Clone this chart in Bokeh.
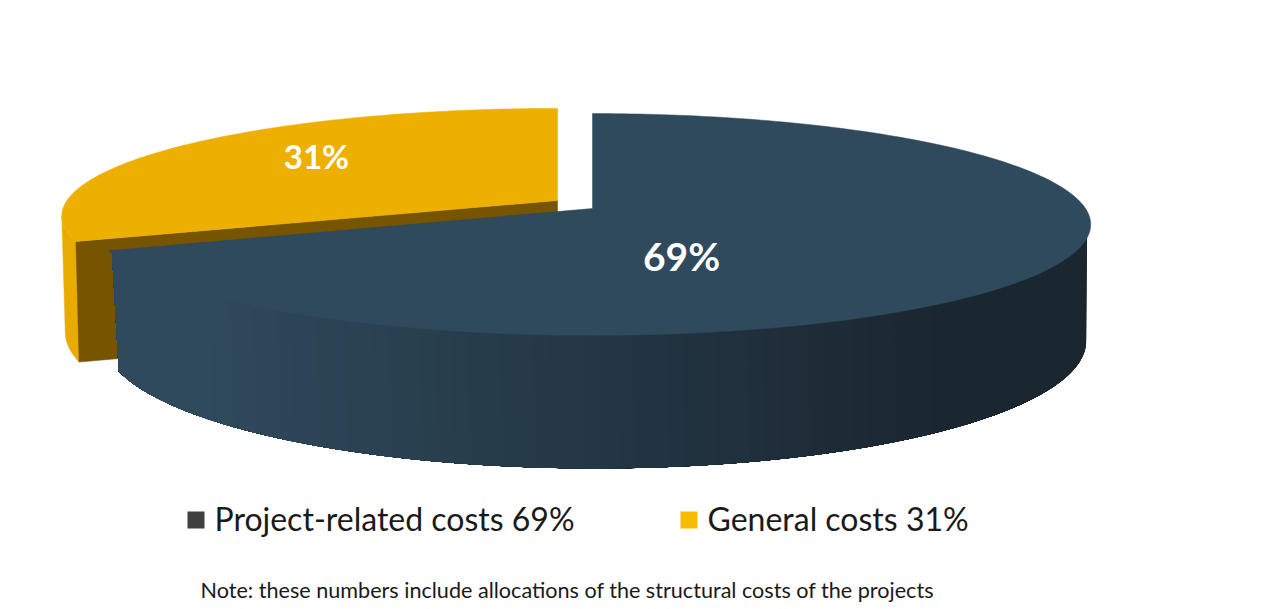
import numpy as np
from bokeh.plotting import figure
from bokeh.models import Range1d
from bokeh.core.properties import value
from bokeh.embed import file_html
from bokeh.resources import INLINE

categories = ["Project-related costs", "General costs"]
shares = [69, 31]
share_labels = ["69%", "31%"]
legend_labels = ["Project-related costs 69%", "General costs 31%"]
note = "Note: these numbers include allocations of the structural costs of the projects"

FONT = value("Lato")
RX, RY, K = 493.0, 108.6, 0.144
split = shares[1] / sum(shares) * 2 * np.pi
T_EXT = np.arccos(-K)  # angle of the widest point of the rim


def rim(t, cx, cy, sx=1.0, sy=1.0):
    p, q = np.sin(t), np.cos(t)
    w = 1 + K * q
    return cx + sx * RX * p / w, cy - sy * RY * q / w


def hexmix(a, b, f):
    a = np.array([int(a[i:i + 2], 16) for i in (1, 3, 5)], float)
    b = np.array([int(b[i:i + 2], 16) for i in (1, 3, 5)], float)
    c = a + (b - a) * f
    return "#%02x%02x%02x" % tuple(int(round(v)) for v in c)


p = figure(width=1288, height=609, output_backend="svg", toolbar_location=None,
           x_range=Range1d(0, 1288), y_range=Range1d(609, 0),
           min_border=0, outline_line_color=None, background_fill_color="white",
           border_fill_color="white")
p.axis.visible = False
p.grid.visible = False

# gold slice: outer wall, cut wall, top
GOLD_TOP = (557, 200, 0.995, 0.97)
GOLD_BOT = (551, 313, 0.976, 1.15)
t_g = np.linspace(-split, -T_EXT, 30)
xt, yt = rim(t_g, *GOLD_TOP)
xb, yb = rim(t_g, *GOLD_BOT)
p.patch(np.r_[xt, xb[::-1]], np.r_[yt, yb[::-1]], fill_color="#e8ac00", line_color="#e8ac00", line_width=0.5)

xe, ye = rim(np.array([-split]), *GOLD_TOP)
xf, yf = rim(np.array([-split]), *GOLD_BOT)
p.patch([GOLD_TOP[0], xe[0], xf[0], GOLD_TOP[0]], [GOLD_TOP[1], ye[0], yf[0], GOLD_TOP[1] + 120],
        fill_color="#775500", line_color="#775500", line_width=0.5)

t_top = np.linspace(-split, 0, 120)
xg, yg = rim(t_top, *GOLD_TOP)
p.patch(np.r_[GOLD_TOP[0], xg], np.r_[GOLD_TOP[1], yg], fill_color="#eeb000", line_color="#eeb000", line_width=0.5)

# dark slice: wall drawn as overlapping bands for shading, then top
DARK_TOP = (592, 208, 0.993, 1.0)
DARK_BOT = (595, 322, 0.985, 1.15)
dark_end = 2 * np.pi - split
edges = np.linspace(T_EXT, dark_end, 90)
for a in edges[:-1]:
    tt = np.linspace(a, dark_end, 120)
    xa, ya = rim(tt, *DARK_TOP)
    xc, yc = rim(tt, *DARK_BOT)
    f = np.clip((xa[0] - 200) / 750, 0, 1)
    col = hexmix("#2f4a5c", "#1a2630", f)
    p.patch(np.r_[xa, xc[::-1]], np.r_[ya, yc[::-1]], fill_color=col, line_color=None)

t_d = np.linspace(0, dark_end, 240)
xd, yd = rim(t_d, 592, 208)
p.patch(np.r_[DARK_TOP[0], xd], np.r_[DARK_TOP[1], yd], fill_color="#2f4a5c", line_color="#2f4a5c", line_width=0.5)

# value labels
p.text([681], [255], text=[share_labels[0]], text_font=FONT, text_font_size="39px", text_font_style="bold",
       text_color="white", text_align="center", text_baseline="middle")
p.text([316], [155], text=[share_labels[1]], text_font=FONT, text_font_size="33px", text_font_style="bold",
       text_color="white", text_align="center", text_baseline="middle")

# legend
p.rect([195.5, 688.5], [519.5, 519.5], width=17, height=17,
       fill_color=["#404040", "#f7bb00"], line_color=None)
p.text([214, 707], [518, 518], text=legend_labels, text_font=FONT, text_font_size="32px",
       text_color="#1a1a1a", text_align="left", text_baseline="middle")
p.text([200], [589], text=[note], text_font=FONT, text_font_size="21.6px",
       text_color="#1a1a1a", text_align="left", text_baseline="middle")

open("out.html", "w").write(file_html(p, INLINE))
